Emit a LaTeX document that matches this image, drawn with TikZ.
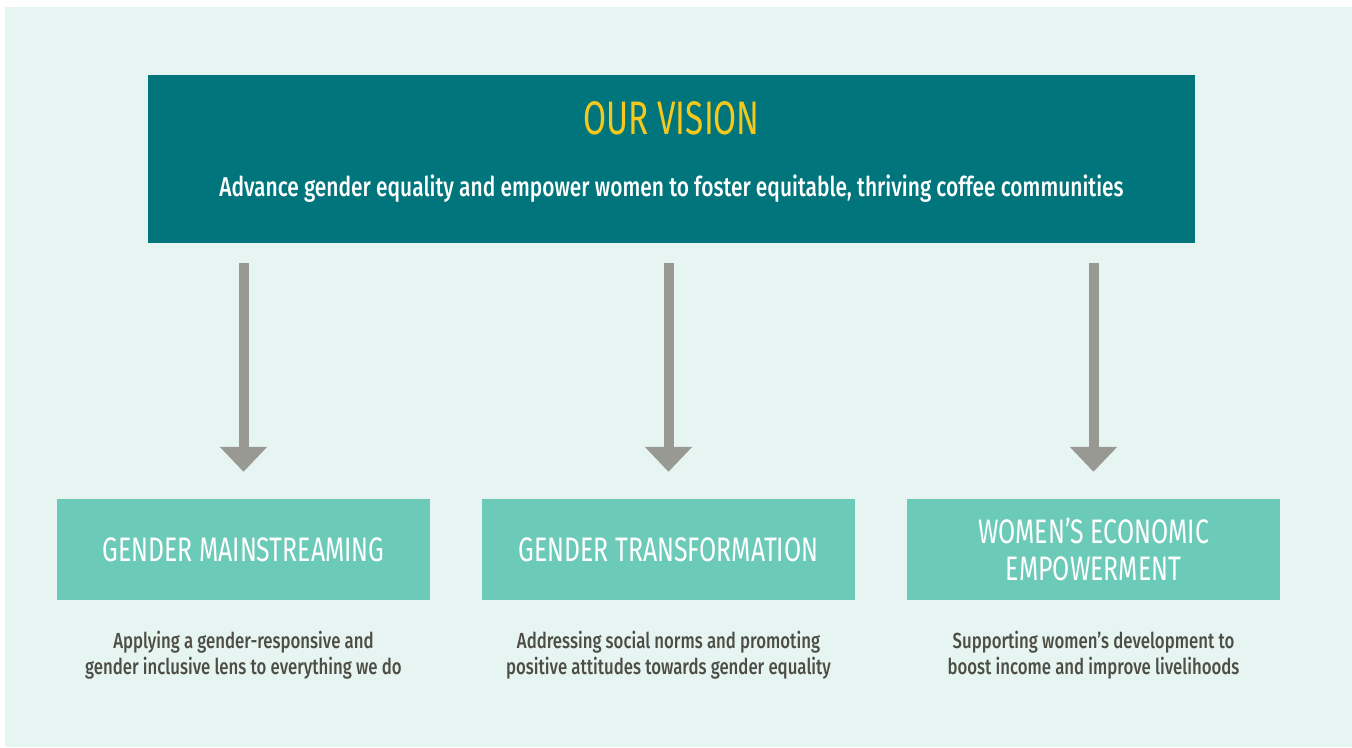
\documentclass[tikz,border=0pt]{standalone}
\usepackage{fontspec}
\setmainfont{Fira Sans Medium}[FakeStretch=0.77]
\newfontfamily\headfont{Fira Sans}[FakeStretch=0.71]
\newfontfamily\pillarfont{Fira Sans}[FakeStretch=0.73]
\usetikzlibrary{arrows.meta,positioning}

\definecolor{bgmint}{HTML}{E6F5F2}
\definecolor{visionteal}{HTML}{00767C}
\definecolor{visionyellow}{HTML}{F6C81C}
\definecolor{pillarmint}{HTML}{6CCAB8}
\definecolor{arrowgrey}{HTML}{999993}
\definecolor{descgrey}{HTML}{4D4D45}

\tikzset{
  pillar/.style={fill=pillarmint, minimum width=373pt, minimum height=101pt, inner sep=0pt,
    text=white, align=center, font=\pillarfont\fontsize{34}{37}\selectfont},
  desc/.style={text=descgrey, align=center, inner sep=0pt, font=\fontsize{21.8}{26}\selectfont},
  flow/.style={arrowgrey, line width=10pt, -{Triangle[width=46pt,length=25pt]}}
}

\begin{document}
\begin{tikzpicture}[x=1pt,y=-1pt]

\fill[white] (0,0) rectangle (1352,747);
\useasboundingbox (0,0) rectangle (1352,747);
\fill[bgmint] (5,7) rectangle (1352,747);

% vision box
\node[fill=visionteal, minimum width=1047pt, minimum height=168pt, inner sep=0pt] (vision) at (671.5,159) {};
\node[text=visionyellow, inner sep=0pt, anchor=base, font=\headfont\fontsize{47}{50}\selectfont] (visiontitle) at (671.5,134) {OUR VISION};
\node[text=white, inner sep=0pt, anchor=base, font=\fontsize{27.2}{30}\selectfont] (visiontext) at (671.5,196)
  {Advance gender equality and empower women to foster equitable, thriving coffee communities};

% pillars
\node[pillar] (gm) at (243.5,549.5) {GENDER MAINSTREAMING};
\node[pillar] (gt) at (668.5,549.5) {GENDER TRANSFORMATION};
\node[pillar] (wee) at (1093.5,549.5) {WOMEN’S ECONOMIC\\EMPOWERMENT};

\node[desc, below=31pt of gm] (gmdesc) {Applying a gender-responsive and\\gender inclusive lens to everything we do};
\node[desc, below=31pt of gt] (gtdesc) {Addressing social norms and promoting\\positive attitudes towards gender equality};
\node[desc, below=31pt of wee] (weedesc) {Supporting women’s development to\\boost income and improve livelihoods};

% arrows
\draw[flow] ([yshift=-20pt]vision.south -| gm) -- ([yshift=27pt]gm.north);
\draw[flow] ([yshift=-20pt]vision.south -| gt) -- ([yshift=27pt]gt.north);
\draw[flow] ([yshift=-20pt]vision.south -| wee) -- ([yshift=27pt]wee.north);

\end{tikzpicture}
\end{document}
